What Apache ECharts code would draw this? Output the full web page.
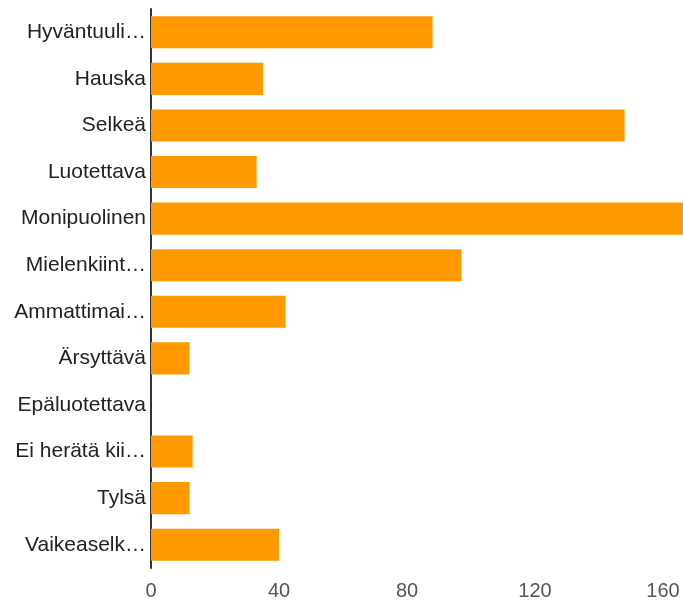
<!DOCTYPE html>
<html>
<head>
<meta charset="utf-8">
<script src="https://cdn.jsdelivr.net/npm/echarts@6/dist/echarts.min.js"></script>
<style>
  html, body { margin: 0; padding: 0; background: #fff; }
  #chart { width: 683px; height: 605px; }
</style>
</head>
<body>
<div id="chart"></div>
<script>
// Category labels, top to bottom
const categories = [
  'Hyväntuuli…', 'Hauska', 'Selkeä', 'Luotettava', 'Monipuolinen',
  'Mielenkiint…', 'Ammattimai…', 'Ärsyttävä', 'Epäluotettava',
  'Ei herätä kii…', 'Tylsä', 'Vaikeaselk…'
];
// Answer counts per category
const counts = [88, 35, 148, 33, 170, 97, 42, 12, 0, 13, 12, 40];
// Value axis ticks
const tickValues = [0, 40, 80, 120, 160];

const chart = echarts.init(document.getElementById('chart'), null, { renderer: 'canvas' });
chart.setOption({
  animation: false,
  backgroundColor: '#ffffff',
  grid: { left: 151, right: 0, top: 9, bottom: 37, containLabel: false },
  xAxis: {
    type: 'value',
    min: tickValues[0],
    max: 166.25,
    interval: 40,
    axisLine: { show: false },
    axisTick: { show: false },
    splitLine: { show: false },
    axisLabel: {
      showMaxLabel: false,
      margin: 13,
      fontFamily: 'Liberation Sans, Arial, sans-serif',
      fontSize: 20,
      color: '#555',
      formatter: v => tickValues.includes(v) ? String(v) : ''
    }
  },
  yAxis: {
    type: 'category',
    data: categories,
    inverse: true,
    axisLine: { show: true, lineStyle: { color: '#333', width: 2 } },
    axisTick: { show: false },
    axisLabel: {
      margin: 5,
      fontFamily: 'Liberation Sans, Arial, sans-serif',
      fontSize: 21,
      color: '#222'
    }
  },
  series: [{
    type: 'bar',
    data: counts,
    barCategoryGap: '31%',
    clip: true,
    itemStyle: { color: '#FF9900' },
    z: 1
  }]
});
</script>
</body>
</html>
